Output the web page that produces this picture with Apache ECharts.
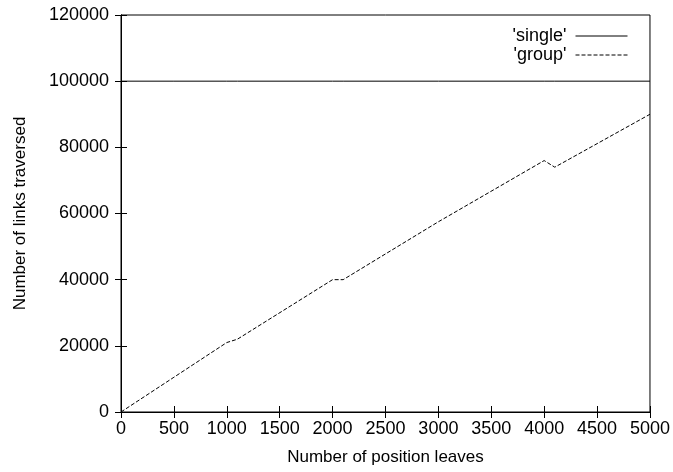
<!DOCTYPE html>
<html>
<head>
<meta charset="utf-8">
<script src="https://cdn.jsdelivr.net/npm/echarts@6/dist/echarts.min.js"></script>
<style>
  html, body { margin: 0; padding: 0; background: #fff; }
  #chart { width: 673px; height: 472px; }
</style>
</head>
<body>
<div id="chart"></div>
<script>
// number of position leaves vs links traversed
const leaves = [0, 500, 1000, 1100, 2000, 2100, 3000, 4000, 4100, 5000];
const singleLinks = [100000, 100000, 100000, 100000, 100000, 100000, 100000, 100000, 100000, 100000];
const groupLinks = [0, 10500, 21000, 22000, 40000, 40000, 57500, 76000, 74000, 90000];

const font = '"Liberation Sans", Arial, Helvetica, sans-serif';

const pairs = (xs, ys) => xs.map((x, i) => [x, ys[i]]);

const tickStyle = { inside: true, length: 6, lineStyle: { color: '#000', width: 1 } };
const plain = (v) => String(v);

const option = {
  animation: false,
  backgroundColor: '#fff',
  textStyle: { fontFamily: font },
  grid: {
    left: 121,
    right: 22,
    top: 15,
    bottom: 60,
    show: true,
    borderColor: '#000',
    borderWidth: 1
  },
  legend: {
    orient: 'vertical',
    align: 'right',
    right: 40,
    top: 22,
    itemGap: 1,
    itemWidth: 52,
    itemHeight: 14,
    itemStyle: { color: 'transparent', borderWidth: 0, opacity: 0 },
    lineStyle: { width: 1 },
    textStyle: {
      fontFamily: font,
      fontSize: 18,
      color: '#000',
      padding: [0, 4, 0, 0]
    },
    data: ["'single'", "'group'"]
  },
  xAxis: [
    {
      type: 'value',
      min: 0,
      max: 5000,
      interval: 500,
      name: 'Number of position leaves',
      nameLocation: 'middle',
      nameGap: 37,
      nameTextStyle: { fontFamily: font, fontSize: 17, color: '#000' },
      axisLine: { show: true, lineStyle: { color: '#000', width: 1 } },
      axisTick: tickStyle,
      axisLabel: { fontFamily: font, fontSize: 18, color: '#000', margin: 8, formatter: plain },
      splitLine: { show: false }
    },
    {
      type: 'value',
      position: 'top',
      min: 0,
      max: 5000,
      interval: 500,
      axisLine: { show: true, lineStyle: { color: '#000', width: 1 } },
      axisTick: tickStyle,
      axisLabel: { show: false },
      splitLine: { show: false }
    }
  ],
  yAxis: [
    {
      type: 'value',
      min: 0,
      max: 120000,
      interval: 20000,
      name: 'Number of links traversed',
      nameLocation: 'middle',
      nameGap: 92,
      nameTextStyle: { fontFamily: font, fontSize: 17, color: '#000' },
      axisLine: { show: true, lineStyle: { color: '#000', width: 1 } },
      axisTick: tickStyle,
      axisLabel: { fontFamily: font, fontSize: 18, color: '#000', margin: 12, formatter: plain },
      splitLine: { show: false }
    },
    {
      type: 'value',
      position: 'right',
      min: 0,
      max: 120000,
      interval: 20000,
      axisLine: { show: true, lineStyle: { color: '#000', width: 1 } },
      axisTick: tickStyle,
      axisLabel: { show: false },
      splitLine: { show: false }
    }
  ],
  series: [
    {
      name: "'single'",
      type: 'line',
      data: pairs(leaves, singleLinks),
      symbol: 'none',
      lineStyle: { color: '#000', width: 1 },
      itemStyle: { color: '#000' }
    },
    {
      name: "'group'",
      type: 'line',
      data: pairs(leaves, groupLinks),
      symbol: 'none',
      lineStyle: { color: '#000', width: 1, type: [4, 2] },
      itemStyle: { color: '#000' }
    }
  ]
};

const chart = echarts.init(document.getElementById('chart'));
chart.setOption(option);
window.addEventListener('resize', () => chart.resize());
</script>
</body>
</html>
